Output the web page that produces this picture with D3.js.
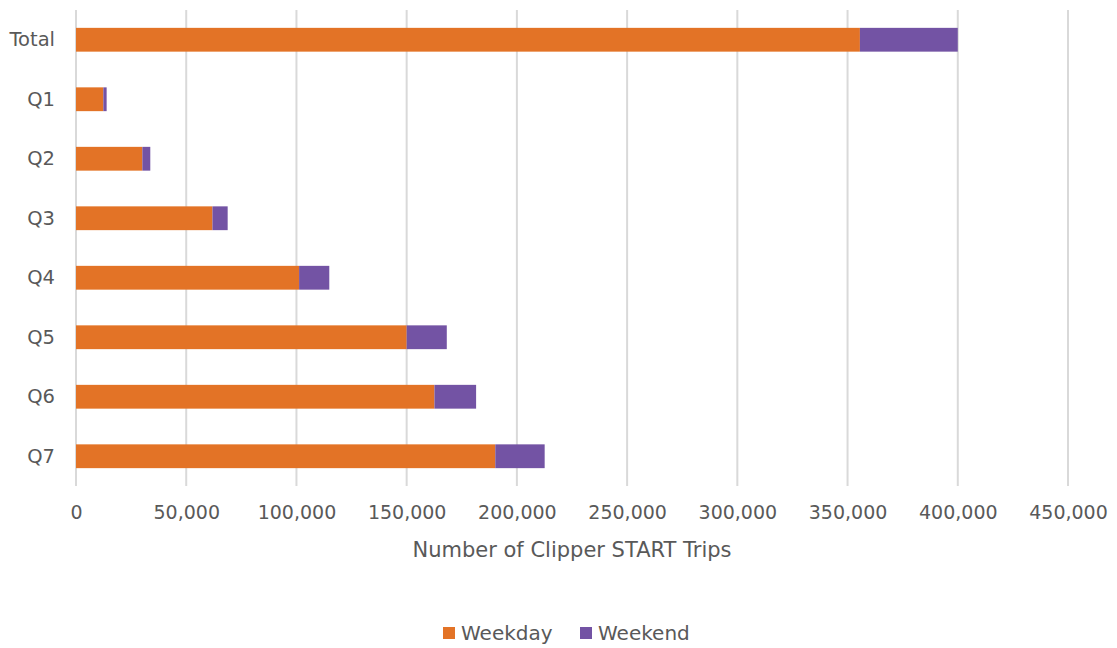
<!DOCTYPE html>
<html>
<head>
<meta charset="utf-8">
<script src="https://cdn.jsdelivr.net/npm/d3@7"></script>
<style>
  body { margin: 0; background: #fff; }
  text { font-family: "DejaVu Sans", sans-serif; fill: #595959; }
</style>
</head>
<body>
<div id="chart"></div>
<script>
const categories = ["Total", "Q1", "Q2", "Q3", "Q4", "Q5", "Q6", "Q7"];
const weekday = [355600, 12400, 30100, 61900, 101200, 150000, 162600, 190200];
const weekend = [44400, 1500, 3600, 6900, 13700, 18200, 18900, 22400];
const seriesNames = ["Weekday", "Weekend"];
const colors = ["#E37326", "#7353A4"];
const xTicks = [0, 50000, 100000, 150000, 200000, 250000, 300000, 350000, 400000, 450000];

const rows = categories.map((c, i) => ({ cat: c, Weekday: weekday[i], Weekend: weekend[i] }));

const svg = d3.select("#chart")
    .append("svg")
    .attr("width", 1117)
    .attr("height", 648);

const xScale = d3.scaleLinear()
    .domain([0, 450000])
    .range([76, 1068]);

const yScale = d3.scaleBand()
    .domain(categories)
    .range([10, 486])
    .paddingInner(0.6)
    .paddingOuter(0.3);

// gridlines
svg.append("g")
    .selectAll("line")
    .data(xTicks)
    .enter().append("line")
    .attr("x1", d => xScale(d))
    .attr("x2", d => xScale(d))
    .attr("y1", 10)
    .attr("y2", 486)
    .attr("stroke", "#D9D9D9")
    .attr("stroke-width", 2);

const stack = d3.stack().keys(seriesNames)(rows);

svg.append("g")
    .selectAll("g")
    .data(stack)
    .enter().append("g")
    .attr("fill", (d, i) => colors[i])
    .selectAll("rect")
    .data(d => d)
    .enter().append("rect")
    .attr("x", d => xScale(d[0]))
    .attr("y", d => yScale(d.data.cat))
    .attr("width", d => xScale(d[1]) - xScale(d[0]))
    .attr("height", yScale.bandwidth());

// x axis labels
const xAxis = svg.append("g")
    .attr("transform", "translate(0,486)")
    .call(d3.axisBottom(xScale).tickValues(xTicks).tickFormat(d3.format(",")).tickSize(0).tickPadding(20));
xAxis.select(".domain").remove();
xAxis.selectAll("text")
    .attr("font-size", 19)
    .attr("fill", "#595959")
    .style("font-family", "'DejaVu Sans', sans-serif");

// y axis labels
const yAxis = svg.append("g")
    .attr("transform", "translate(76,0)")
    .call(d3.axisLeft(yScale).tickSize(0).tickPadding(21));
yAxis.select(".domain").remove();
yAxis.selectAll("text")
    .attr("font-size", 19.5)
    .attr("fill", "#595959")
    .style("font-family", "'DejaVu Sans', sans-serif");

svg.append("text")
    .attr("x", 572)
    .attr("y", 557)
    .attr("text-anchor", "middle")
    .attr("font-size", 21)
    .text("Number of Clipper START Trips");

// legend
const legend = svg.append("g")
    .attr("transform", "translate(443,633)");
const legendX = [0, 137];
seriesNames.forEach((name, i) => {
    legend.append("rect")
        .attr("x", legendX[i])
        .attr("y", -6)
        .attr("width", 12)
        .attr("height", 12)
        .attr("fill", colors[i]);
    legend.append("text")
        .attr("x", legendX[i] + 18)
        .attr("y", 7)
        .attr("font-size", 20)
        .text(name);
});
</script>
</body>
</html>
